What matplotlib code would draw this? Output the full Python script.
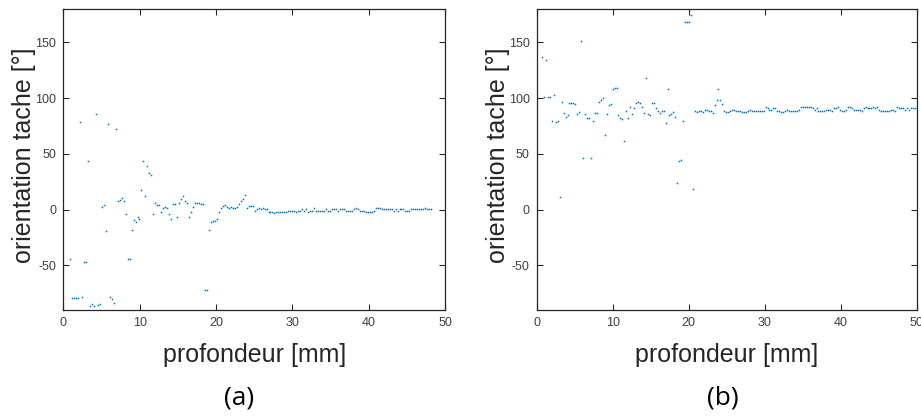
import numpy as np
import matplotlib
matplotlib.use('Agg')
import matplotlib.pyplot as plt

plt.rcParams['axes.unicode_minus'] = False

# ---- data (a) ----
orient_a = [
    -44, -79.5, -79.5, -79.5, -79.5, 79, -78, -46.5, -46.5, 44,
    -86, -85, -86, 86, -85.5, -84.5, 2.7, 3.9, -19, 77,
    -78, -80.5, -84, 72, 7.8, 8.7, 10.5, 7.5, -4.2, -44.5,
    -44.5, -18.3, -9.6, -11, -6.3, -8.4, 17.6, 43.7, 12, 39,
    32.7, 30.9, -4.2, 6, 3.9, 3.9, -2.1, 1.8, 2.7, 1.8,
    -4.2, -8.4, 4.8, 4.8, -6.3, 6, 9.9, 12, 7.8, 6,
    -6.3, -2.1, 2.7, 6, 6, 6, 4.8, 4.8, -72.3, -72.3,
    -18.3, -11, -10.2, -10.2, -8.4, -2.1, 1.8, 3.2, 3.9, 2.7,
    1.8, 2.3, 1.8, 1.8, 2.3, 4.8, 7.5, 9.3, 12.9,
    1.8, 3.6, 3.6, 3.6, -1.5, 0.3, 1.8, 0.3, 1.8, 0.3,
    0.3, -2.1, -2.1, -2.1, -3, -2.1, -2.1, -2.1, -2.1, -2.1,
    -2.1, -1.2, -1.2, -1.2, -1.2, -2.1, -1.2, -1.2, 0.3, -1.2,
    0.3, -2.1, -1.2, -1.2, 1.8, -1.2, -1.2, -1.2, -1.2, -1.2,
    0.3, -1.2, -1.2, 0.3, 0.3, 0.3, -1.2, 0.3, 0.3, 0.3,
    -1.2, -1.2, -1.2, -1.2, 0.3, 1.8, 0.3, -1.2, -1.2, -1.2,
    -2.1, -2.1, -2.1, -2.1, -1.2, 1.8, 1.8, 1.8, 0.9, 0.9,
    0.9, 0.9, 0.9, 0.9, -1.2, 0.9, -1.2, 0.9, 0.9, 0.9,
    -1.2, -1.2, -1.2, 0.9, 0.9, 0.9, 0.9, 0.9, 0.9, 0.9,
    1.8, 0.9, 0.9, 0.9,
]
depth_a_start, depth_a_step = 0.88, 0.26

# ---- data (b) ----
orient_b = [
    136.8, 101.4, 134.7, 101.4, 101.4, 79.5, 102.6, 78.6, 79.5, 11,
    96.6, 86.4, 83.4, 84.6, 95.4, 95.4, 95.4, 94.5, 85.5, 87.6,
    151.5, 46.5, 85.5, 82.5, 82.5, 46.5, 79.5, 86.4, 86.4, 96.6,
    98.4, 100.5, 67, 85.5, 93.6, 94.5, 108.6, 109.5, 109.5, 84.6,
    82.5, 81.6, 61.5, 88.5, 82.5, 92.4, 85.5, 91.5, 95.4, 96.6,
    95.4, 92.4, 86.4, 118.5, 85.5, 84.6, 95.4, 95.4, 91.5, 88.5,
    86.4, 88.5, 88.5, 77.4, 108.6, 84.6, 85.5, 87.6, 83.4, 24.3,
    43.5, 44.4, 79.5, 168, 168, 168, 174.9, 18.3,
    88.4, 87.6, 88.4, 88.4, 87.6, 89.4, 89.4, 88.4, 88.4, 86.4,
    93.6, 98.4, 108.3, 98.4, 94.5, 88.4, 87.6, 87.6, 88.4, 89.4,
    89.4, 88.4, 88.4, 88.4, 87.6, 87.6, 87.6, 88.4, 89.4, 88.4,
    88.4, 88.4, 88.4, 88.4, 88.4, 88.4, 92.4, 90.9, 89.4, 89.4,
    91.5, 91.5, 88.4, 88.4, 87.6, 87.6, 88.4, 89.4, 88.4, 88.4,
    88.4, 88.4, 88.4, 89.4, 92.4, 92.4, 92.4, 92.4, 92.4, 92.4,
    91.5, 89.4, 90.9, 88.4, 88.4, 88.4, 88.4, 89.4, 89.4, 89.4,
    88.4, 91.5, 91.5, 92.4, 89.4, 88.4, 88.4, 89.4, 92.4, 92.4,
    91.5, 89.4, 89.4, 89.4, 89.4, 88.4, 90.9, 92.4, 91.5, 91.5,
    91.5, 92.4, 90.9, 92.4, 89.4, 88.4, 88.4, 88.4, 88.4, 88.4,
    89.4, 89.4, 88.4, 92.4, 91.5, 90.9, 90.9, 89.4, 90.9, 89.4,
    90.9, 90.9, 90.9, 90.9,
]
depth_b_start, depth_b_step = 0.70, 0.258

x_ticks = [0, 10, 20, 30, 40, 50]
y_ticks = [-50, 0, 50, 100, 150]
x_label = "profondeur [mm]"
y_label = "orientation tache [°]"
panel_labels = ["(a)", "(b)"]

depth_a = depth_a_start + depth_a_step * np.arange(len(orient_a))
depth_b = depth_b_start + depth_b_step * np.arange(len(orient_b))

W, H = 921, 417
fig = plt.figure(figsize=(W / 100, H / 100), dpi=100)

def px_axes(x0, x1, y0, y1):
    return fig.add_axes([x0 / W, (H - y1) / H, (x1 - x0) / W, (y1 - y0) / H])

axes = [px_axes(63.3, 445, 9, 310), px_axes(536.7, 916.7, 9, 310)]
data = [(depth_a, orient_a), (depth_b, orient_b)]
label_pos = [239, 723]

spine_col = '#262626'
tick_col = '#404040'
for ax, (xd, yd), lp, pl in zip(axes, data, label_pos, panel_labels):
    ax.plot(xd, yd, linestyle='none', marker='s', markersize=1.1,
            markeredgewidth=0, color='#0072BD')
    ax.set_xlim(0, 50)
    ax.set_ylim(-90, 180)
    ax.set_xticks(x_ticks)
    ax.set_yticks(y_ticks)
    ax.tick_params(direction='in', top=True, right=True, length=4, width=0.8,
                   color=spine_col, labelcolor=tick_col, labelsize=9,
                   pad=5)
    for s in ax.spines.values():
        s.set_color(spine_col)
        s.set_linewidth(0.9)
    for t in ax.get_xticklabels() + ax.get_yticklabels():
        t.set_fontfamily('Liberation Sans')
    ax.set_xlabel(x_label, fontsize=18, family='Liberation Sans', color=spine_col)
    ax.set_ylabel(y_label, fontsize=18, family='Liberation Sans', color=spine_col)
    ax.xaxis.label.set_va('center')
    ax.yaxis.label.set_va('center')
    ax.xaxis.set_label_coords(0.5, -0.15)
    ax.yaxis.set_label_coords(-0.103, 0.515)
    fig.text(lp / W, (H - 398) / H, pl, fontsize=19, family='Open Sans',
             ha='center', va='center', color='black')

fig.savefig('out.png', dpi=100)
